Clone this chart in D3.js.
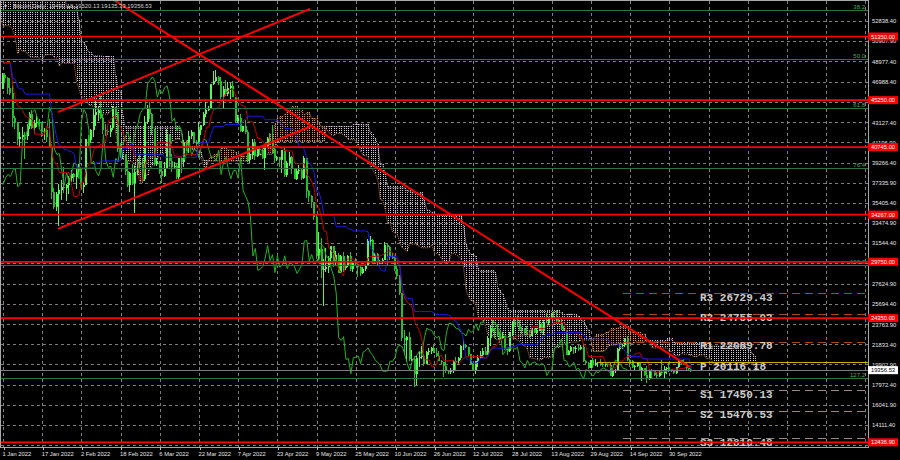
<!DOCTYPE html>
<html><head><meta charset="utf-8">
<script src="https://cdn.jsdelivr.net/npm/d3@7/dist/d3.min.js"></script>
<style>html,body{margin:0;padding:0;background:#000;}svg{display:block;}</style>
</head><body>
<svg id="c" width="900" height="460"></svg>
<script>
// ---------------- DATA ----------------
const titleText = "Bitcoin,Daily  19490.18 19520.13 19135.33 19356.53";
const dateLabels = ["1 Jan 2022","17 Jan 2022","2 Feb 2022","18 Feb 2022","6 Mar 2022","22 Mar 2022","7 Apr 2022","23 Apr 2022","9 May 2022","25 May 2022","10 Jun 2022","26 Jun 2022","12 Jul 2022","28 Jul 2022","13 Aug 2022","29 Aug 2022","14 Sep 2022","30 Sep 2022"];
const dateTickDays = [0,16,32,48,64,80,96,112,128,144,160,176,192,208,224,240,256,272];
const extraGridDays = [288,304,320,336,352];
const priceTicks = [52838.40,50907.90,48977.40,46988.40,45057.90,43127.40,41196.90,39266.40,37335.90,35405.40,33474.90,31544.40,29613.90,27624.90,25694.40,23763.90,21833.40,19902.90,17972.40,16041.90,14111.40,12180.90];

// daily candles, 1 Jan 2022 .. 9 Oct 2022
const open = [
46306,47686,47345,46458,45897,43569,43160,41558,41734,41912,41822,42736,43949,42592,43099,43177,43113,42250,42375,41744,40680,36457,35030,36276,36654,36954,36852,37138,37784,38138,37917,
38483,38743,36952,37154,41500,41441,42412,43841,44118,44339,43565,42408,42244,42197,42586,44575,43961,40538,40030,40122,38431,37075,38286,37296,38332,39214,39105,37710,
43194,44355,43925,42452,39138,39400,38420,37988,38730,41941,39439,38794,38904,37849,39666,39338,41143,40951,41801,42191,41247,41077,42358,42892,43960,44348,44500,46820,47128,47465,47062,
45538,46281,45868,46453,46622,45555,43206,43503,42287,42782,42207,39521,40127,41166,39935,40553,40424,39716,40826,41502,41374,40527,39741,39770,39469,40458,38117,39241,39773,38609,
37714,38469,38529,37750,39698,36575,36040,35501,34059,30297,31022,28936,29047,29283,30101,31305,29862,30425,28720,30315,29200,29432,30323,29098,29655,29562,29267,28628,29032,29468,31734,
31792,29800,30452,29700,29865,29919,31373,31125,30214,30112,29083,28360,26762,22487,22206,22573,20381,20471,19017,20553,20599,20710,19988,21085,21232,21502,21028,20735,20280,20104,
19785,19269,19243,19297,20231,20190,20548,21637,21731,21592,20861,19970,19323,20212,20569,20836,21190,20779,22485,23390,23231,23164,22714,22465,22609,21361,21239,22930,23843,23804,23657,
23336,23314,22978,22846,22630,23289,22961,23175,23810,23149,23954,23935,24403,24441,24305,24094,23854,23342,23191,20834,21166,21534,21398,21529,21368,21560,20241,20037,19555,20285,19812,
20050,20131,19951,19832,19986,19813,18837,19290,19329,21381,21680,21769,22371,20296,20241,19702,19772,20127,19419,19545,18891,18547,19413,19297,18937,18803,19222,19111,19426,19573,
19431,19312,19044,19623,20337,20160,19956,19546,19490.18];
const high = [
47827,47881,47510,47406,47033,43748,43160,42228,42663,42200,43001,44136,44330,43346,43724,43436,43179,42534,42478,43413,41060,36836,36433,37247,37545,38825,37234,38004,38576,38266,38647,
39115,38834,37387,41527,41913,42500,44401,45293,44727,45661,43921,42992,42760,42876,44667,44579,44132,40935,40444,40122,39394,38404,39150,38968,39630,40118,39727,43760,
44793,45077,44055,42506,39686,39430,39430,39304,42465,42004,40130,39308,39209,39742,39794,41465,41287,42316,42400,42241,41414,43124,42893,44131,45094,44735,46828,48086,48162,47601,47512,
46599,47213,47030,46891,47106,45555,43861,43903,42786,43376,42415,40617,41500,41536,40862,40633,40595,41045,41672,42127,42893,40811,39924,39845,40491,40713,39397,40269,39896,38771,
38627,39074,38629,39902,39789,36624,36129,35502,34222,32596,32013,30033,31083,30343,31308,31305,30788,30618,30430,30664,29588,30425,30654,29774,30156,29834,29360,29217,29531,31949,32249,
31957,30604,30633,29930,30150,31693,31521,31300,30609,30333,29437,28502,26795,23225,22680,22972,21333,20758,20746,21090,21700,20872,21192,21520,21579,21783,21478,21164,20364,20141,
20866,19395,19602,20354,20621,20595,21772,22314,21877,21600,20861,20043,20223,20792,21178,21515,21600,22633,23666,24196,23388,23756,22977,23010,22666,21361,23044,24110,24294,24610,24153,
23464,23442,23578,23192,23443,23358,23404,24203,23909,24172,24822,24421,24864,25047,25135,24225,24403,23580,23191,21334,21662,21536,21634,21816,21784,21815,20319,20131,20353,20491,20468,
20179,20412,19996,20020,20037,20177,19408,19424,21456,21794,21828,22423,22673,20462,20303,19876,20150,20176,19613,19578,19734,19493,19486,19309,19149,19295,20343,19749,19627,20166,
19454,19382,19663,20433,20342,20414,20041,19588,19520.13];
const low = [
46288,46856,45835,45752,42645,42500,40938,40672,41338,39650,41407,42528,42460,41982,42669,42691,41680,41392,41242,40672,35792,34784,34601,33184,35705,36375,35597,36289,37407,37385,36733,
38113,36832,36375,37093,40843,41116,41748,42807,43232,43402,42029,41852,41880,41681,42427,43456,40249,39689,39640,38113,36950,36450,37112,34459,38111,38647,37268,37518,
42952,43432,41914,38945,38977,38138,37260,37900,38706,38832,38358,38772,37728,37680,38310,38829,40393,40209,41538,41004,40668,40948,41877,42726,43665,44167,44437,46690,47022,46672,45390,
44421,45621,45622,45353,45544,43130,43027,42183,42183,42021,39315,39253,39591,39556,39768,40078,39563,38568,40618,40948,40063,39233,39373,38884,38255,37903,37869,38941,38212,37698,
37585,38156,37585,37732,35856,35482,34941,33714,30000,29945,28170,25500,28751,28714,29501,29251,29464,28694,28708,28731,28947,29275,28894,28786,29384,28282,28376,28601,28874,29332,31286,
29501,29633,29375,29500,29517,29895,29311,29900,30020,28893,28099,26600,22141,20846,20180,20232,20246,17708,17961,19688,20392,19771,19913,20777,20918,21016,20620,20227,19938,18729,
19070,19010,18966,19055,19341,19807,20296,21337,21439,20719,19948,19308,18999,19655,20406,20526,20778,20778,21684,23059,22431,22541,21950,22315,21250,20776,21070,22622,23515,23502,23107,
22860,22706,22750,22467,22604,22950,22847,23150,22947,22724,23911,23600,24322,24236,23783,23744,23234,23153,20832,20823,21070,20945,20956,21204,21311,20138,19892,19500,19550,19598,19797,
19651,19787,19698,19618,19667,18779,18660,19087,19327,21207,21400,21593,20264,19665,19575,19354,19704,19393,18280,18838,18170,18398,18570,18844,18643,18690,18915,18556,19036,19195,
19183,18974,18960,19535,19865,19883,19370,19311,19135.33];
const close = [
47686,47345,46458,45897,43569,43160,41558,41734,41912,41822,42736,43949,42592,43099,43177,43113,42250,42375,41744,40680,36457,35030,36276,36654,36954,36852,37138,37784,38138,37917,38483,
38743,36952,37154,41500,41441,42412,43841,44118,44339,43565,42408,42244,42197,42586,44575,43961,40538,40030,40122,38431,37075,38286,37296,38332,39214,39105,37710,43194,
44355,43925,42452,39138,39400,38420,37988,38730,41941,39439,38794,38904,37849,39666,39338,41143,40951,41801,42191,41247,41077,42358,42892,43960,44348,44500,46820,47128,47465,47062,45538,
46281,45868,46453,46622,45555,43206,43503,42287,42782,42207,39521,40127,41166,39935,40553,40424,39716,40826,41502,41374,40527,39741,39770,39469,40458,38117,39241,39773,38609,37714,
38469,38529,37750,39698,36575,36040,35501,34059,30297,31022,28936,29047,29283,30101,31305,29862,30425,28720,30315,29200,29432,30323,29098,29655,29562,29267,28628,29032,29468,31734,31792,
29800,30452,29700,29865,29919,31373,31125,30214,30112,29083,28360,26762,22487,22206,22573,20381,20471,19017,20553,20599,20710,19988,21085,21232,21502,21028,20735,20280,20104,19785,
19269,19243,19297,20231,20190,20548,21637,21731,21592,20861,19970,19323,20212,20569,20836,21190,20779,22485,23390,23231,23164,22714,22465,22609,21361,21239,22930,23843,23804,23657,23336,
23314,22978,22846,22630,23289,22961,23175,23810,23149,23954,23935,24403,24441,24305,24094,23854,23342,23191,20834,21166,21534,21398,21529,21368,21560,20241,20037,19555,20285,19812,20050,
20131,19951,19832,19986,19813,18837,19290,19329,21381,21680,21769,22371,20296,20241,19702,19772,20127,19419,19545,18891,18547,19413,19297,18937,18803,19222,19111,19426,19573,19431,
19312,19044,19623,20337,20160,19956,19546,19490,19356.53];

// history before the visible window (15 Oct 2021 .. 31 Dec 2021), used for Ichimoku only
const preHigh = [
62757,62000,61600,62600,64400,66900,66600,63700,61700,61600,63700,63300,61400,62100,62900,62200,62400,
62300,64300,63500,63100,62500,61500,63300,67500,68500,69000,65500,65400,64900,65500,66300,63600,60800,60900,58300,59800,60000,59100,57800,57600,59300,59200,55200,57400,58800,59200,
59000,57600,57600,53900,49700,50900,51900,51100,50800,50000,49500,50700,50300,48900,49400,49400,48000,47300,48300,47500,49300,49500,51300,51800,51200,51000,52000,50700,48100,48000,48500];
const preLow = [
57000,60000,58900,60200,61400,63500,62100,60000,59700,59500,60700,60100,58100,58000,60300,60700,60100,
59600,60700,60400,60700,60800,60100,61400,63100,66400,63300,64100,62300,63700,63600,63500,58600,58400,56300,55700,57400,58500,55900,55400,55800,56900,53600,53600,53300,56700,56500,
56500,55900,53000,42000,47700,47000,50100,48700,47400,47000,46800,48700,45800,46300,46500,47600,45500,45600,46000,45600,46700,48500,48100,50600,50000,49500,50500,47300,46100,45900,45700];

// horizontal support / resistance lines (red)
const srLevels = [51350.00,45250.00,40745.00,34267.00,29750.00,24350.00,12436.90];
// Fibonacci retracement
const fibLevels = [38.2,50.0,61.8,76.4,100.0,127.2];
const fibHigh = 69000, fibLow = 29400;
// pivot levels
const pivotNames = ["R3","R2","R1","P","S1","S2","S3"];
const pivotValues = [26729.43,24755.03,22089.78,20116.18,17450.13,15476.53,12810.48];
const pivotStartDay = 253, pivotPStartDay = 243;
// trend lines [day, price]
const channelTop = [[22.4,44100],[125.3,54000]];
const channelBottom = [[22.4,32900],[125.3,42700]];
const downTrend = [[45,54900],[280.4,19650]];
const lastPrice = 19356.53;

// ---------------- CHART ----------------
const W=900,H=460,plotRight=868,plotBottom=447;
const x = d3.scaleLinear().domain([0,272]).range([3,3+272*2.45]);
const y = d3.scaleLinear().domain([12180.9,52838.4]).range([445,21]);
const svg = d3.select('#c');
svg.append('rect').attr('width',W).attr('height',H).attr('fill','#000');
svg.append('defs').append('clipPath').attr('id','clip').append('rect')
  .attr('x',1).attr('y',1).attr('width',plotRight-1).attr('height',plotBottom-1);
const plot = svg.append('g').attr('clip-path','url(#clip)');
const px = v => Math.round(v)+0.5;
const FONT = '"Liberation Sans", Arial, sans-serif';

// grid
const grid = plot.append('g').attr('stroke','#7c7c7c').attr('stroke-width',1).attr('stroke-dasharray','3,3').attr('shape-rendering','crispEdges');
grid.selectAll('line.h').data(priceTicks).join('line').attr('class','h')
  .attr('x1',1).attr('x2',plotRight).attr('y1',d=>px(y(d))).attr('y2',d=>px(y(d)));
grid.selectAll('line.v').data(dateTickDays.concat(extraGridDays)).join('line').attr('class','v')
  .attr('x1',d=>px(x(d))).attr('x2',d=>px(x(d))).attr('y1',1).attr('y2',plotBottom);

// Ichimoku
const N = close.length, P = preHigh.length;
const allHigh = preHigh.concat(high), allLow = preLow.concat(low);
function mid(g,n){let h=-Infinity,l=Infinity;for(let k=g-n+1;k<=g;k++){if(k<0)continue;if(allHigh[k]>h)h=allHigh[k];if(allLow[k]<l)l=allLow[k];}return (h+l)/2;}
const tenkan = d3.range(N).map(i=>({d:i,v:mid(i+P,9)}));
const kijun = d3.range(N).map(i=>({d:i,v:mid(i+P,26)}));
const cloud = d3.range(-1,N+26).map(d=>{const g=d+P-26;return {d,A:(mid(g,9)+mid(g,26))/2,B:mid(g,52)};});
const chikou = d3.range(0,N-26).map(d=>({d,v:close[d+26]}));

const cloudG = plot.append('g').attr('shape-rendering','crispEdges');
cloudG.selectAll('line').data(cloud).join('line')
  .attr('x1',d=>px(x(d.d))).attr('x2',d=>px(x(d.d)))
  .attr('y1',d=>Math.floor(Math.min(y(d.A),y(d.B))/2)*2)
  .attr('y2',d=>Math.max(y(d.A),y(d.B)))
  .attr('stroke',d=>d.A>=d.B?'#e0985a':'#d4c6d4')
  .attr('stroke-width',1).attr('stroke-dasharray','1,1');
const ln = d3.line().x(d=>x(d.d)).y(d=>y(d.v));
plot.append('path').datum(cloud.map(c=>({d:c.d,v:c.A}))).attr('d',ln).attr('fill','none')
  .attr('stroke','#d08850').attr('stroke-width',1).attr('stroke-dasharray','1,1');
plot.append('path').datum(cloud.map(c=>({d:c.d,v:c.B}))).attr('d',ln).attr('fill','none')
  .attr('stroke','#cdb8cd').attr('stroke-width',1).attr('stroke-dasharray','1,1');

// candles
const cg = plot.append('g').attr('shape-rendering','crispEdges');
const upC='#5cf55c', dnC='#25c025';
cg.selectAll('line').data(d3.range(N)).join('line')
  .attr('x1',i=>Math.round(x(i))-0.5).attr('x2',i=>Math.round(x(i))-0.5)
  .attr('y1',i=>y(high[i])).attr('y2',i=>y(low[i]))
  .attr('stroke',i=>close[i]>=open[i]?upC:dnC).attr('stroke-width',1);
cg.selectAll('rect').data(d3.range(N)).join('rect')
  .attr('x',i=>Math.round(x(i))-1).attr('width',2)
  .attr('y',i=>y(Math.max(open[i],close[i])))
  .attr('height',i=>Math.max(1,Math.abs(y(open[i])-y(close[i]))))
  .attr('fill',i=>close[i]>=open[i]?upC:dnC);

// chikou, tenkan, kijun
plot.append('path').datum(chikou).attr('d',ln).attr('fill','none').attr('stroke','#22b422').attr('stroke-width',1);
plot.append('path').datum(tenkan).attr('d',ln).attr('fill','none').attr('stroke','#c80000').attr('stroke-width',1);
plot.append('path').datum(kijun).attr('d',ln).attr('fill','none').attr('stroke','#1a1ae6').attr('stroke-width',1);

// fibonacci lines
const fibPrice = l => fibHigh - l/100*(fibHigh-fibLow);
const fg = plot.append('g');
fg.selectAll('line').data(fibLevels).join('line').attr('shape-rendering','crispEdges')
  .attr('x1',1).attr('x2',plotRight).attr('y1',d=>px(y(fibPrice(d)))).attr('y2',d=>px(y(fibPrice(d))))
  .attr('stroke','#2e7040').attr('stroke-width',1);
fg.selectAll('text').data(fibLevels).join('text')
  .attr('x',865).attr('y',d=>Math.round(y(fibPrice(d)))-1).attr('text-anchor','end')
  .attr('fill','#4caa5c').attr('font-family',FONT).attr('font-size','6px').text(d=>d.toFixed(1));

// pivot lines
const pg = plot.append('g');
pg.selectAll('line').data(pivotValues).join('line').attr('shape-rendering','crispEdges')
  .attr('x1',(d,i)=>x(pivotNames[i]==='P'?pivotPStartDay:pivotStartDay)).attr('x2',plotRight)
  .attr('y1',d=>px(y(d))).attr('y2',d=>px(y(d)))
  .attr('stroke',(d,i)=>pivotNames[i]==='P'?'#c8b400':(pivotNames[i][0]==='R'?'#a4481e':'#a08484'))
  .attr('stroke-width',1).attr('stroke-dasharray',(d,i)=>pivotNames[i]==='P'?null:'8,5');
pg.selectAll('text').data(pivotValues).join('text')
  .attr('x',700).attr('y',d=>y(d)+7.5)
  .attr('fill','#cccccc').attr('font-family','"Liberation Mono", "DejaVu Sans Mono", monospace')
  .attr('font-weight','bold').attr('font-size','11px').attr('xml:space','preserve')
  .text((d,i)=>pivotNames[i]+' '+d.toFixed(2));

// current price line
plot.append('line').attr('x1',1).attr('x2',plotRight).attr('y1',px(y(lastPrice))).attr('y2',px(y(lastPrice)))
  .attr('stroke','#7a7a80').attr('stroke-width',1).attr('shape-rendering','crispEdges');

// red horizontal levels
plot.append('g').selectAll('line').data(srLevels).join('line')
  .attr('x1',1).attr('x2',plotRight).attr('y1',d=>y(d)).attr('y2',d=>y(d))
  .attr('stroke','#ff0000').attr('stroke-width',1.7);

// trend lines
const tl = d3.line().x(d=>x(d[0])).y(d=>y(d[1]));
plot.append('g').selectAll('path').data([channelTop,channelBottom,downTrend]).join('path')
  .attr('d',tl).attr('fill','none').attr('stroke','#ff0000').attr('stroke-width',2);

// frame
svg.append('rect').attr('x',0.5).attr('y',0.5).attr('width',plotRight).attr('height',plotBottom)
  .attr('fill','none').attr('stroke','#a8a8a8').attr('stroke-width',1).attr('shape-rendering','crispEdges');

// axes (labels hidden behind a level box are not drawn)
const covered = v => srLevels.some(s=>Math.abs(y(s)-y(v))<4);
const yAxis = d3.axisRight(y).tickValues(priceTicks).tickFormat(d=>covered(d)?'':d3.format('.2f')(d)).tickSize(0).tickPadding(4);
const ya = svg.append('g').attr('transform',`translate(${plotRight},0)`).call(yAxis);
ya.select('.domain').remove();
ya.selectAll('text').attr('fill','#e6e6e6').attr('font-family',FONT).attr('font-size','5.8px');

const xAxis = d3.axisBottom(x).tickValues(dateTickDays).tickFormat((d,i)=>dateLabels[i]).tickSize(3).tickPadding(1.5);
const xa = svg.append('g').attr('transform',`translate(0,${plotBottom})`).call(xAxis);
xa.select('.domain').remove();
xa.selectAll('line').attr('stroke','#bbbbbb').attr('shape-rendering','crispEdges').attr('transform','translate(0.5,0)');
xa.selectAll('text').attr('fill','#e6e6e6').attr('font-family',FONT).attr('font-size','5.8px')
  .attr('text-anchor','start').attr('x',-1);

// axis price boxes for red levels
const lb = svg.append('g');
lb.selectAll('rect').data(srLevels).join('rect')
  .attr('x',868).attr('y',d=>y(d)-4).attr('width',30).attr('height',8).attr('fill','#ff0000');
lb.selectAll('text').data(srLevels).join('text')
  .attr('x',883).attr('y',d=>y(d)+2).attr('text-anchor','middle')
  .attr('fill','#ffffff').attr('font-family',FONT).attr('font-size','5.8px').text(d=>d.toFixed(2));
// current price box
svg.append('rect').attr('x',868).attr('y',y(lastPrice)-4).attr('width',30).attr('height',8).attr('fill','#ffffff');
svg.append('text').attr('x',883).attr('y',y(lastPrice)+2).attr('text-anchor','middle')
  .attr('fill','#000').attr('font-family',FONT).attr('font-size','5.8px').text(lastPrice.toFixed(2));

// title
svg.append('text').attr('x',3).attr('y',8).attr('fill','#dddddd').attr('font-family',FONT).attr('font-size','5px').text('\u25BC');
svg.append('text').attr('x',13).attr('y',8).attr('fill','#d4d4d4').attr('font-family',FONT)
  .attr('font-size','5.9px').attr('xml:space','preserve').text(titleText);
</script>
</body></html>
